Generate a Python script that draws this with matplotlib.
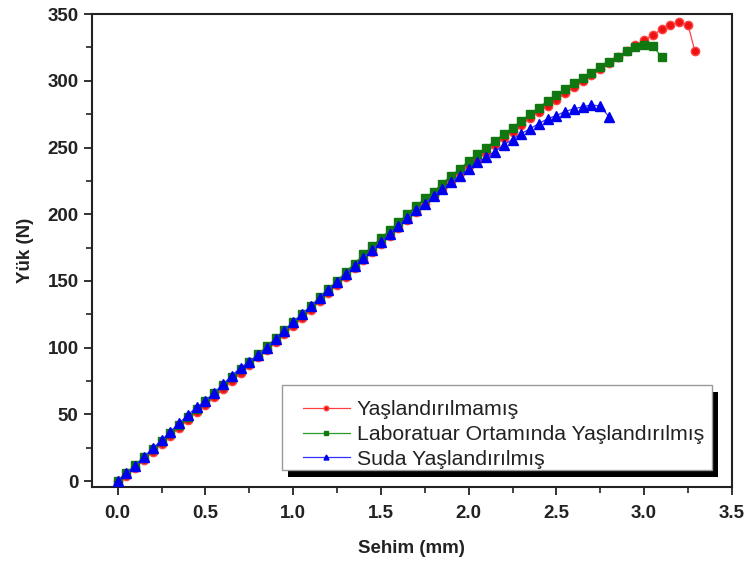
import matplotlib
matplotlib.use("Agg")
import matplotlib.pyplot as plt
from matplotlib.patches import Rectangle
from matplotlib.ticker import MultipleLocator

plt.rcParams['font.family'] = ['Liberation Sans', 'DejaVu Sans']

labels = ["Yaşlandırılmamış", "Laboratuar Ortamında Yaşlandırılmış", "Suda Yaşlandırılmış"]

red_x = [0.00, 0.05, 0.10, 0.15, 0.20, 0.25, 0.30, 0.35, 0.40, 0.45, 0.50, 0.55, 0.60, 0.65,
         0.70, 0.75, 0.80, 0.85, 0.90, 0.95, 1.00, 1.05, 1.10, 1.15, 1.20, 1.25, 1.30, 1.35,
         1.40, 1.45, 1.50, 1.55, 1.60, 1.65, 1.70, 1.75, 1.80, 1.85, 1.90, 1.95, 2.00, 2.05,
         2.10, 2.15, 2.20, 2.25, 2.30, 2.35, 2.40, 2.45, 2.50, 2.55, 2.60, 2.65, 2.70, 2.75,
         2.80, 2.85, 2.90, 2.95, 3.00, 3.05, 3.10, 3.15, 3.20, 3.25, 3.29]
red_y = [0, 4, 10, 16, 22, 28, 34, 40, 46, 52, 57, 63, 69, 75,
         81, 87, 93, 98, 104, 110, 116, 122, 128, 135, 141, 147, 153, 160,
         166, 172, 178, 184, 190, 196, 202, 208, 214, 219, 225, 231, 236, 241,
         246, 252, 257, 262, 267, 272, 277, 281, 286, 290.5, 295, 299.5, 304, 308.5,
         313, 317.5, 322, 326.5, 330.5, 334.5, 338.5, 342, 344, 342, 322]

green_x = [0.00, 0.05, 0.10, 0.15, 0.20, 0.25, 0.30, 0.35, 0.40, 0.45, 0.50, 0.55, 0.60, 0.65,
           0.70, 0.75, 0.80, 0.85, 0.90, 0.95, 1.00, 1.05, 1.10, 1.15, 1.20, 1.25, 1.30, 1.35,
           1.40, 1.45, 1.50, 1.55, 1.60, 1.65, 1.70, 1.75, 1.80, 1.85, 1.90, 1.95, 2.00, 2.05,
           2.10, 2.15, 2.20, 2.25, 2.30, 2.35, 2.40, 2.45, 2.50, 2.55, 2.60, 2.65, 2.70, 2.75,
           2.80, 2.85, 2.90, 2.95, 3.00, 3.05, 3.10]
green_y = [0, 6, 12, 18, 24, 30, 36, 42, 48, 54, 60, 66, 72, 78,
           84, 89, 95, 101, 107, 113, 119, 125, 131, 138, 144, 150, 157, 163,
           170, 176, 182, 188, 194, 200, 206, 212, 217, 223, 229, 234, 240, 245,
           250, 255, 260, 265, 270, 275, 280, 285, 289, 294, 298, 302, 306, 310,
           314, 318, 322, 325, 327, 326, 318]

blue_x = [0.00, 0.05, 0.10, 0.15, 0.20, 0.25, 0.30, 0.35, 0.40, 0.45, 0.50, 0.55, 0.60, 0.65,
          0.70, 0.75, 0.80, 0.85, 0.90, 0.95, 1.00, 1.05, 1.10, 1.15, 1.20, 1.25, 1.30, 1.35,
          1.40, 1.45, 1.50, 1.55, 1.60, 1.65, 1.70, 1.75, 1.80, 1.85, 1.90, 1.95, 2.00, 2.05,
          2.10, 2.15, 2.20, 2.25, 2.30, 2.35, 2.40, 2.45, 2.50, 2.55, 2.60, 2.65, 2.70, 2.75,
          2.80]
blue_y = [0, 5.8, 11.5, 18, 24.5, 30.5, 37, 43.5, 49.5, 55.5, 60, 66, 72.5, 79,
          85, 89.5, 94.5, 100, 106.5, 112.5, 119, 125, 131, 137, 143, 149, 155, 161,
          167, 173, 179, 185, 191, 197, 203, 208, 214, 219, 224, 229, 234, 239,
          243, 247, 252, 256, 260.5, 264, 268, 271.5, 274, 277, 279, 280.5, 282, 281,
          273]

W, H = 746, 565
fig = plt.figure(figsize=(W / 100, H / 100), dpi=100)
ax = fig.add_axes([0.123, 0.138, 0.858, 0.837])

ms = 6
l1, = ax.plot(red_x, red_y, '-', color='#ff4040', lw=0.9, marker='o', ms=ms,
              mfc='#ee1111', mec='#ff4444', label=labels[0], zorder=3)
l2, = ax.plot(green_x, green_y, '-', color='#2a9a2a', lw=0.9, marker='s', ms=ms - 0.5,
              mfc='#117711', mec='#117711', label=labels[1], zorder=4)
l3, = ax.plot(blue_x, blue_y, '-', color='#3030ff', lw=0.9, marker='^', ms=ms + 0.5,
              mfc='#0000ee', mec='#0000ee', label=labels[2], zorder=5)

ax.set_xlim(-0.148, 3.5)
ax.set_ylim(-4.5, 350)
ax.xaxis.set_major_locator(MultipleLocator(0.5))
ax.xaxis.set_minor_locator(MultipleLocator(0.25))
ax.yaxis.set_major_locator(MultipleLocator(50))
ax.yaxis.set_minor_locator(MultipleLocator(25))
ax.set_xticks([0, 0.5, 1.0, 1.5, 2.0, 2.5, 3.0, 3.5])
ax.set_xticklabels(["0.0", "0.5", "1.0", "1.5", "2.0", "2.5", "3.0", "3.5"])

for s in ax.spines.values():
    s.set_linewidth(1.5)
    s.set_color('#222222')
ax.tick_params(which='major', direction='out', length=6, width=1.3, labelsize=13.5,
               top=False, right=False, colors='#222222')
ax.tick_params(which='minor', direction='out', length=4, width=1.2, top=False, right=False,
               colors='#222222')
for lab in ax.get_xticklabels() + ax.get_yticklabels():
    lab.set_fontweight('bold')
ax.tick_params(axis='x', which='major', pad=7)

ax.set_xlabel("Sehim (mm)", fontsize=13.5, fontweight='bold', labelpad=13, color='#222222')
ax.set_ylabel("Yük (N)", fontsize=13.5, fontweight='bold', labelpad=10, color='#222222')

# legend frame and shadow (figure pixel positions)
fx0, fx1, fy_top, fy_bot = 282, 712, 385, 470
shadow = Rectangle(((fx0 + 6) / W, 1 - (fy_bot + 7) / H), (fx1 - fx0) / W, (fy_bot - fy_top) / H,
                   transform=fig.transFigure, facecolor='black', edgecolor='none', zorder=8)
frame = Rectangle((fx0 / W, 1 - fy_bot / H), (fx1 - fx0) / W, (fy_bot - fy_top) / H,
                  transform=fig.transFigure, facecolor='white', edgecolor='#999999',
                  lw=1.0, zorder=9)
fig.add_artist(shadow)
fig.add_artist(frame)

leg = fig.legend([l1, l2, l3], labels, loc='upper left',
                 bbox_to_anchor=(303 / W, 1 - 400 / H), frameon=False,
                 fontsize=15.3, borderpad=0, borderaxespad=0, labelspacing=0.28,
                 handlelength=2.2, handletextpad=0.34, markerscale=0.55)
for t in leg.get_texts():
    t.set_color('#222222')
leg.set_zorder(10)

fig.savefig("out.png", dpi=100)
